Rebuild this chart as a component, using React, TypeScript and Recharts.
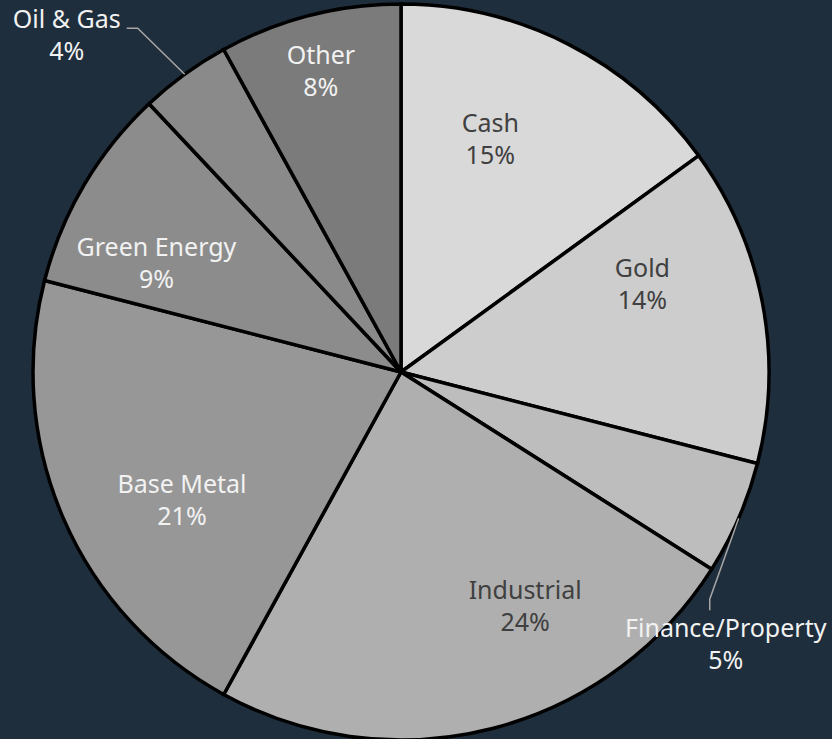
import { PieChart, Pie, Cell } from "recharts";

const categories = ["Cash", "Gold", "Finance/Property", "Industrial", "Base Metal", "Green Energy", "Oil & Gas", "Other"];
const shares = [15, 14, 5, 24, 21, 9, 4, 8];

const data = categories.map((name, i) => ({ name, value: shares[i] }));

const FILLS = ["#d9d9d9", "#cdcdcd", "#bdbdbd", "#afafaf", "#979797", "#8c8c8c", "#8a8a8a", "#7b7b7b"];
const TEXT = ["#404040", "#404040", "#f2f2f2", "#404040", "#f2f2f2", "#f2f2f2", "#f2f2f2", "#f2f2f2"];

// inside labels: nudge from the mid-angle point at 0.69 R
const NUDGE: Record<number, [number, number]> = {
  0: [-26, -7],
  1: [-8, -40],
  3: [61, -12],
  4: [14, 27],
  5: [-26, 20],
  7: [-17, -55],
};

// outside labels: elbow offset from the edge, tail, text centre offset from tail end
const OUTSIDE: Record<number, { elbow: [number, number]; tail: [number, number]; text: [number, number] }> = {
  2: { elbow: [-29, 81], tail: [0, 11], text: [16, 34] },
  6: { elbow: [-47, -46], tail: [-11, 0], text: [-60, 7] },
};

const RAD = Math.PI / 180;
const BG = "#1f2e3c";
const FONT = "'Noto Sans', sans-serif";

if (typeof document !== "undefined") document.body.style.margin = "0";

function polar(cx: number, cy: number, r: number, angle: number) {
  return { x: cx + r * Math.cos(-angle * RAD), y: cy + r * Math.sin(-angle * RAD) };
}

function TwoLines({ x, y, name, value, color }: { x: number; y: number; name: string; value: number; color: string }) {
  return (
    <text textAnchor="middle" fontFamily={FONT} fontSize={25} fill={color}>
      <tspan x={x} y={y - 16 + 9}>{name}</tspan>
      <tspan x={x} y={y + 16 + 9}>{value}%</tspan>
    </text>
  );
}

function renderLabel(props: any) {
  const { cx, cy, midAngle, outerRadius, index } = props;
  const name = categories[index];
  const value = shares[index];
  const out = OUTSIDE[index];
  if (out) {
    const p0 = polar(cx, cy, outerRadius, midAngle);
    const p1 = { x: p0.x + out.elbow[0], y: p0.y + out.elbow[1] };
    const p2 = { x: p1.x + out.tail[0], y: p1.y + out.tail[1] };
    return (
      <g key={`lbl-${index}`}>
        <polyline
          points={`${p0.x},${p0.y} ${p1.x},${p1.y} ${p2.x},${p2.y}`}
          fill="none"
          stroke="#a6a6a6"
          strokeWidth={1.5}
        />
        <TwoLines x={p2.x + out.text[0]} y={p2.y + out.text[1]} name={name} value={value} color={TEXT[index]} />
      </g>
    );
  }
  const p = polar(cx, cy, outerRadius * 0.69, midAngle);
  const n = NUDGE[index] || [0, 0];
  return (
    <g key={`lbl-${index}`}>
      <TwoLines x={p.x + n[0]} y={p.y + n[1]} name={name} value={value} color={TEXT[index]} />
    </g>
  );
}

export default function App() {
  return (
    <div style={{ width: 832, height: 739, background: BG, overflow: "hidden" }}>
      <PieChart width={832} height={739} margin={{ top: 0, right: 0, bottom: 0, left: 0 }}>
        <Pie
          data={data}
          dataKey="value"
          nameKey="name"
          cx={401}
          cy={372}
          outerRadius={368}
          startAngle={90}
          endAngle={-270}
          stroke="#000000"
          strokeWidth={3.5}
          label={renderLabel}
          labelLine={false}
          isAnimationActive={false}
        >
          {data.map((d, i) => (
            <Cell key={d.name} fill={FILLS[i]} />
          ))}
        </Pie>
      </PieChart>
    </div>
  );
}
